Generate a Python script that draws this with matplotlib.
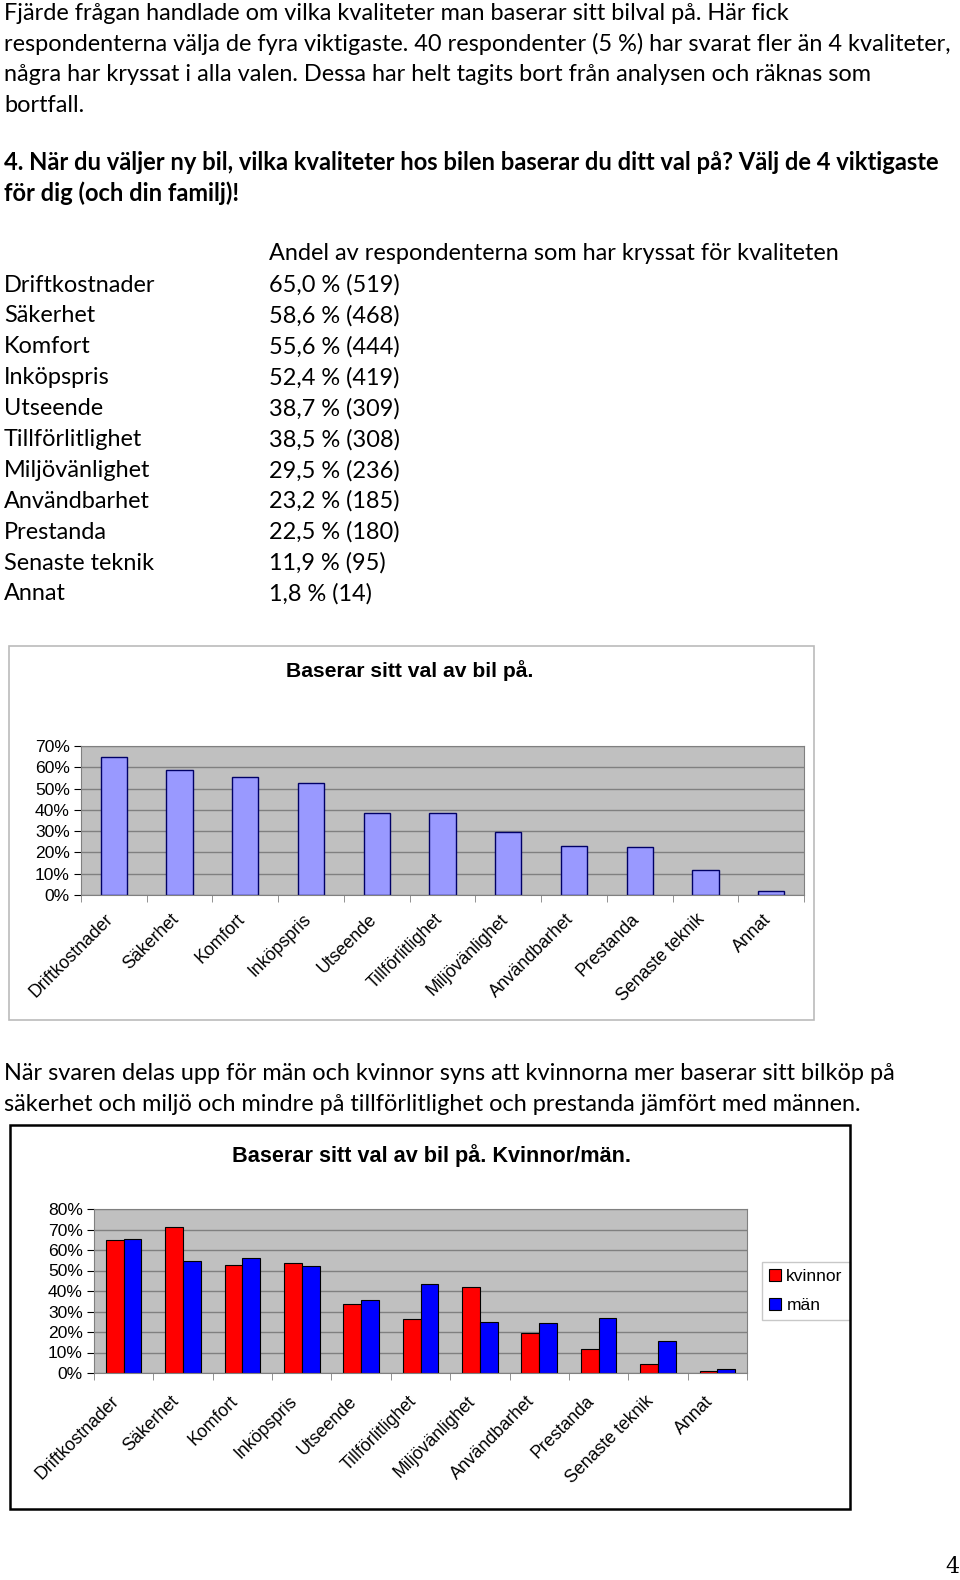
import numpy as np
import matplotlib.pyplot as plt
from matplotlib.patches import Rectangle
from matplotlib.ticker import FuncFormatter, FixedLocator
from matplotlib.transforms import ScaledTranslation

W, H = 960, 1580

# texter på sidan
intro = [
    "Fjärde frågan handlade om vilka kvaliteter man baserar sitt bilval på. Här fick",
    "respondenterna välja de fyra viktigaste. 40 respondenter (5 %) har svarat fler än 4 kvaliteter,",
    "några har kryssat i alla valen. Dessa har helt tagits bort från analysen och räknas som",
    "bortfall.",
]
fraga = [
    "4. När du väljer ny bil, vilka kvaliteter hos bilen baserar du ditt val på? Välj de 4 viktigaste",
    "för dig (och din familj)!",
]
tabell_rubrik = "Andel av respondenterna som har kryssat för kvaliteten"
kvaliteter = ["Driftkostnader", "Säkerhet", "Komfort", "Inköpspris", "Utseende",
              "Tillförlitlighet", "Miljövänlighet", "Användbarhet", "Prestanda",
              "Senaste teknik", "Annat"]
andel = [65.0, 58.6, 55.6, 52.4, 38.7, 38.5, 29.5, 23.2, 22.5, 11.9, 1.8]
antal = [519, 468, 444, 419, 309, 308, 236, 185, 180, 95, 14]
mellantext = [
    "När svaren delas upp för män och kvinnor syns att kvinnorna mer baserar sitt bilköp på",
    "säkerhet och miljö och mindre på tillförlitlighet och prestanda jämfört med männen.",
]
kvinnor = [64.8, 71.3, 52.6, 53.9, 33.7, 26.2, 41.9, 19.7, 11.6, 4.2, 1.0]
man = [65.5, 54.7, 56.0, 52.0, 35.8, 43.3, 24.9, 24.4, 27.0, 15.5, 2.1]

body_font = ["Lato", "DejaVu Sans"]
chart_font = ["Liberation Sans", "DejaVu Sans"]
body_size = 16.9

fig = plt.figure(figsize=(W / 100, H / 100), dpi=100)


def fx(x):
    return x / W


def fy(y):
    return 1 - y / H


def ftext(x, y, s, **kw):
    kw.setdefault("family", body_font)
    kw.setdefault("fontsize", body_size)
    kw.setdefault("va", "center")
    fig.text(fx(x), fy(y), s, **kw)


def add_ax(x0, y0, x1, y1):
    return fig.add_axes([fx(x0), fy(y1), (x1 - x0) / W, (y1 - y0) / H])


def box(x0, y0, x1, y1, color, lw):
    fig.patches.append(Rectangle((fx(x0), fy(y1)), (x1 - x0) / W, (y1 - y0) / H,
                                 transform=fig.transFigure, fill=False,
                                 edgecolor=color, linewidth=lw))


for i, s in enumerate(intro):
    ftext(4, 13 + 30.8 * i, s)
for i, s in enumerate(fraga):
    ftext(4, 162 + 30.8 * i, s, weight="bold", fontsize=17.1)

ftext(269, 254, tabell_rubrik)
for i, (k, a, n) in enumerate(zip(kvaliteter, andel, antal)):
    y = 285 + 30.9 * i
    ftext(4, y, k)
    ftext(269, y, f"{a:.1f}".replace(".", ",") + f" % ({n})")

for i, s in enumerate(mellantext):
    ftext(4, 1074 + 30.8 * i, s)
ftext(959, 1567, "4", fontsize=16, ha="right", family=["DejaVu Serif"])


def style_axes(ax, ymax, dx, dy):
    n = len(kvaliteter)
    ax.set_facecolor("#C0C0C0")
    ax.set_xlim(-0.5, n - 0.5)
    ax.set_ylim(0, ymax / 100)
    ax.yaxis.set_major_locator(FixedLocator(np.arange(0, ymax + 1, 10) / 100))
    ax.yaxis.set_major_formatter(FuncFormatter(lambda v, p: f"{v * 100:.0f}%"))
    ax.yaxis.grid(True, color="#808080", linewidth=1)
    ax.set_axisbelow(True)
    ax.set_xticks(np.arange(n))
    ax.set_xticklabels(kvaliteter, rotation=45, ha="right", va="top",
                       rotation_mode="anchor", family=chart_font, fontsize=12.8)
    ax.tick_params(axis="x", length=0, pad=12)
    off = ScaledTranslation(dx / 100, dy / 100, fig.dpi_scale_trans)
    for lab in ax.get_xticklabels():
        lab.set_transform(lab.get_transform() + off)
    ax.set_xticks(np.arange(n + 1) - 0.5, minor=True)
    ax.tick_params(axis="x", which="minor", length=5, color="#808080")
    ax.tick_params(axis="y", length=5, labelsize=12.6, pad=3)
    for lab in ax.get_yticklabels():
        lab.set_family(chart_font)
    for sp in ax.spines.values():
        sp.set_color("#808080")


# diagram 1
box(9, 646, 814, 1020, "#BBBBBB", 1.2)
ftext(410, 671, "Baserar sitt val av bil på.", family=chart_font, fontsize=15.2,
      weight="bold", ha="center")
ax1 = add_ax(81, 746, 804, 895)
x = np.arange(len(kvaliteter))
ax1.bar(x, np.array(andel) / 100, width=0.4, color="#9999FF", edgecolor="#000066",
        linewidth=1)
style_axes(ax1, 70, -9, 1)

# diagram 2
box(10, 1125, 850, 1509, "#000000", 1.8)
ftext(431, 1156, "Baserar sitt val av bil på. Kvinnor/män.", family=chart_font,
      fontsize=15.6, weight="bold", ha="center")
ax2 = add_ax(94, 1209, 747, 1373)
bw = 0.3
ax2.bar(x - bw / 2, np.array(kvinnor) / 100, width=bw, color="#FF0000",
        edgecolor="#000000", linewidth=0.8, label="kvinnor")
ax2.bar(x + bw / 2, np.array(man) / 100, width=bw, color="#0000FF",
        edgecolor="#000000", linewidth=0.8, label="män")
style_axes(ax2, 80, -13, -3)
leg = ax2.legend(loc="center left", bbox_to_anchor=(fx(762), fy(1291)),
                 bbox_transform=fig.transFigure, frameon=True, fancybox=False,
                 prop={"family": chart_font, "size": 12.5}, handlelength=0.7,
                 handleheight=0.7, handletextpad=0.3, borderpad=0.4,
                 labelspacing=0.75, borderaxespad=0)
leg.get_frame().set_edgecolor("#BBBBBB")
leg.get_frame().set_linewidth(1)

fig.savefig("out.png", dpi=100)
